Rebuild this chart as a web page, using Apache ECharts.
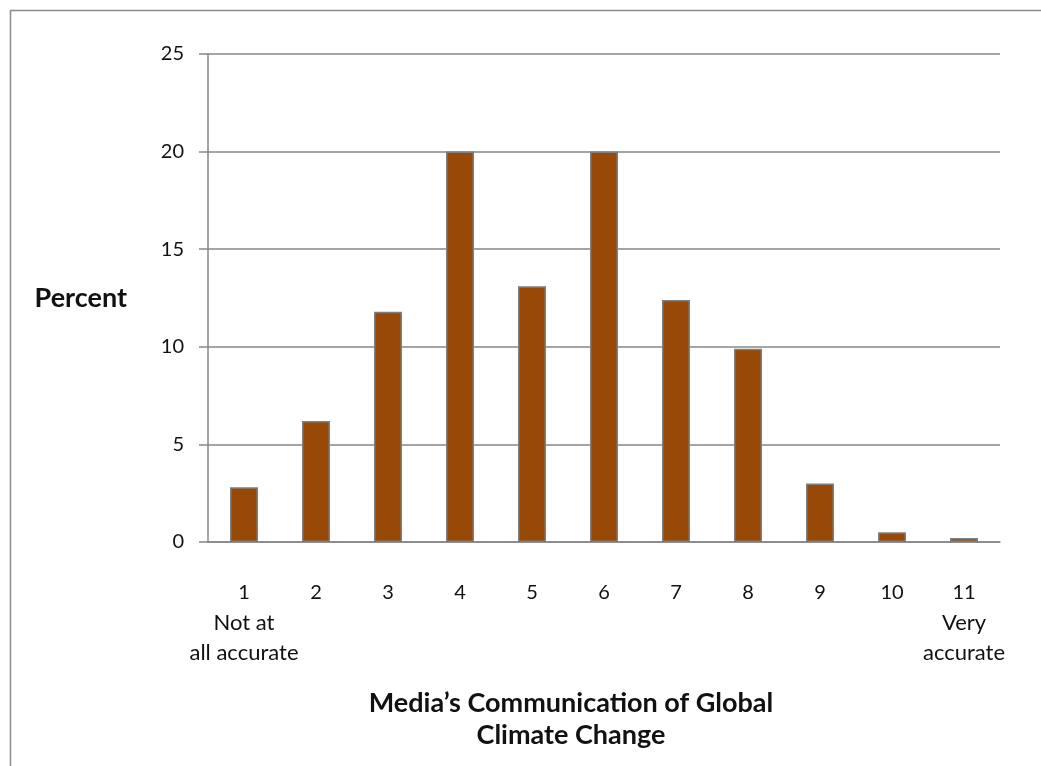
<!DOCTYPE html>
<html>
<head>
<meta charset="utf-8">
<script src="https://cdn.jsdelivr.net/npm/echarts@6/dist/echarts.min.js"></script>
<style>
  html, body { margin: 0; padding: 0; background: #fff; }
  #chart { width: 1041px; height: 766px; }
</style>
</head>
<body>
<div id="chart"></div>
<script>
// Rating scale positions and percentage of respondents at each
const categories = ['1', '2', '3', '4', '5', '6', '7', '8', '9', '10', '11'];
const percents = [2.8, 6.2, 11.8, 20, 13.1, 20, 12.4, 9.9, 3.0, 0.5, 0.2];
const scaleEndLabels = { '1': ['Not at', 'all accurate'], '11': ['Very', 'accurate'] };
const yTicks = { min: 0, max: 25, interval: 5 };
const yTitle = 'Percent';
const xTitle = 'Media\u2019s Communication of Global\nClimate Change';

const FONT = 'Lato, "Open Sans", sans-serif';
const GRAY = '#878787';

const chart = echarts.init(document.getElementById('chart'), null, { renderer: 'canvas' });

chart.setOption({
  backgroundColor: '#ffffff',
  animation: false,
  graphic: [{
    type: 'rect',
    left: 8, top: 8,
    shape: { width: 1200, height: 1000 },
    style: { fill: 'none', stroke: '#8c8c8c', lineWidth: 1.5 },
    silent: true
  }],
  grid: { left: 208, right: 41, top: 54, bottom: 224 },
  xAxis: {
    type: 'category',
    data: categories,
    axisLine: { show: true, lineStyle: { color: GRAY, width: 1.5 } },
    axisTick: { show: false },
    axisLabel: {
      margin: 36,
      color: '#111',
      fontFamily: FONT,
      fontSize: 20,
      lineHeight: 30,
      interval: 0,
      formatter: function (v) {
        const sub = scaleEndLabels[v];
        if (!sub) return '{n|' + v + '}';
        return '{n|' + v + '}\n' + sub.map(function (s) { return '{s|' + s + '}'; }).join('\n');
      },
      rich: {
        n: { fontFamily: FONT, fontSize: 20, lineHeight: 30, color: '#111' },
        s: { fontFamily: FONT, fontSize: 22, lineHeight: 30, color: '#111' }
      }
    },
    name: xTitle,
    nameLocation: 'middle',
    nameGap: 145,
    nameTextStyle: {
      color: '#111',
      fontFamily: FONT,
      fontSize: 27,
      fontWeight: 'bold',
      lineHeight: 32,
      padding: [0, 66, 0, 0]
    }
  },
  yAxis: {
    type: 'value',
    min: yTicks.min,
    max: yTicks.max,
    interval: yTicks.interval,
    axisLine: { show: true, lineStyle: { color: GRAY, width: 1.5 } },
    axisTick: { show: true, length: 9, lineStyle: { color: GRAY, width: 1.5 } },
    splitLine: { show: true, lineStyle: { color: GRAY, width: 1.5 } },
    axisLabel: {
      margin: 24,
      color: '#111',
      fontFamily: FONT,
      fontSize: 20
    },
    name: yTitle,
    nameLocation: 'middle',
    nameRotate: 0,
    nameGap: 81,
    nameTextStyle: {
      color: '#111',
      fontFamily: FONT,
      fontSize: 27,
      fontWeight: 'bold',
      align: 'right',
      verticalAlign: 'middle'
    }
  },
  series: [{
    type: 'bar',
    data: percents,
    barWidth: 28,
    itemStyle: {
      color: '#984807',
      borderColor: '#7f7f7f',
      borderWidth: 1.5
    }
  }]
});
</script>
</body>
</html>
